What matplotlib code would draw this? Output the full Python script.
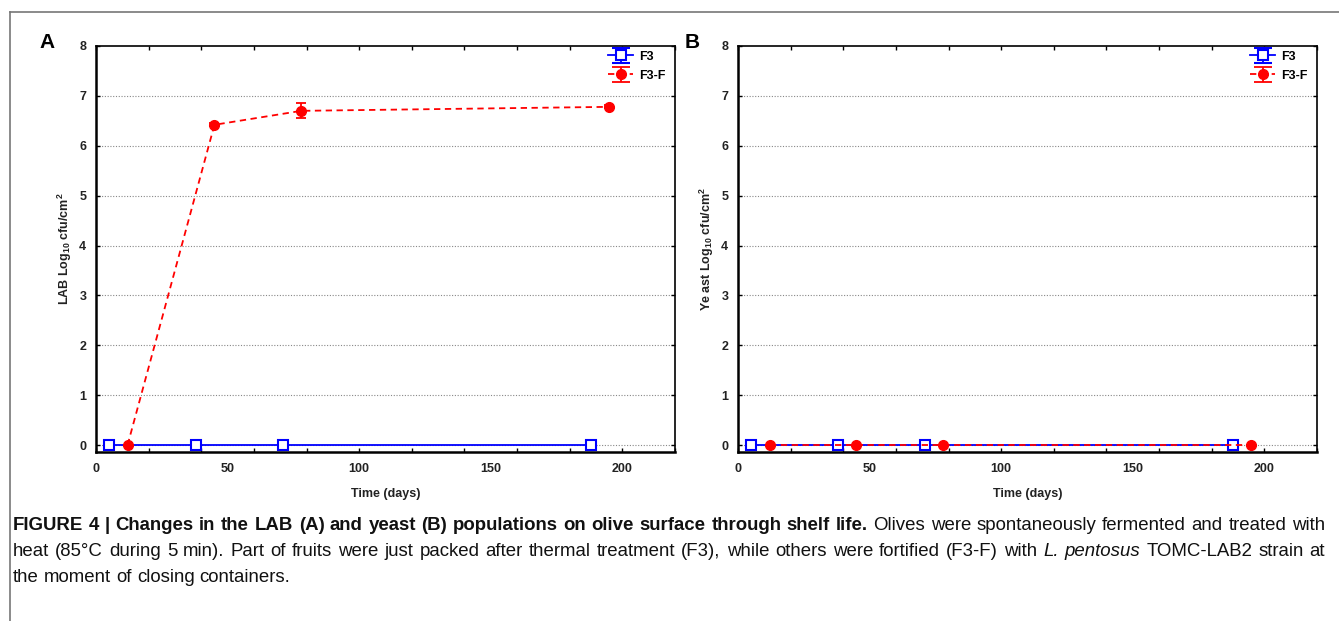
import matplotlib
matplotlib.use("Agg")
import numpy as np
import matplotlib.pyplot as plt
from matplotlib.lines import Line2D
from matplotlib.ticker import MultipleLocator, FixedLocator, NullFormatter
from matplotlib.container import ErrorbarContainer
from matplotlib.legend_handler import HandlerErrorbar

# ---------------- data ----------------
days_f3 = [5, 38, 71, 188]
days_f3f = [12, 45, 78, 195]

lab_f3 = [0, 0, 0, 0]
lab_f3_err = [0, 0, 0, 0]
lab_f3f = [0, 6.42, 6.70, 6.78]
lab_f3f_err = [0, 0.03, 0.15, 0.03]

yeast_f3 = [0, 0, 0, 0]
yeast_f3_err = [0, 0, 0, 0]
yeast_f3f = [0, 0, 0, 0]
yeast_f3f_err = [0, 0, 0, 0]

series_labels = ["F3", "F3-F"]
x_tick_labels = [0, 50, 100, 150, 200]
y_ticks = [0, 1, 2, 3, 4, 5, 6, 7, 8]
panel_letters = ["A", "B"]
y_labels = [r"LAB Log$_{\mathbf{10}}$ cfu/cm$^{\mathbf{2}}$",
            r"Ye ast Log$_{\mathbf{10}}$ cfu/cm$^{\mathbf{2}}$"]
x_label = "Time (days)"

caption_lines = [
    [("FIGURE 4 | Changes in the LAB (A) and yeast (B) populations on olive surface through shelf life.", "bold", "normal"),
     ("Olives were spontaneously fermented and treated with", "normal", "normal")],
    [("heat (85\u00b0C during 5 min). Part of fruits were just packed after thermal treatment (F3), while others were fortified (F3-F) with", "normal", "normal"),
     ("L. pentosus", "normal", "italic"),
     ("TOMC-LAB2 strain at", "normal", "normal")],
    [("the moment of closing containers.", "normal", "normal")],
]

# ---------------- figure ----------------
W, H = 1339, 621
fig = plt.figure(figsize=(W / 100, H / 100), dpi=100)
plt.rcParams['font.family'] = ['Liberation Sans', 'DejaVu Sans']
plt.rcParams['mathtext.fontset'] = 'custom'
plt.rcParams['mathtext.rm'] = 'Liberation Sans:bold'
plt.rcParams['mathtext.it'] = 'Liberation Sans:bold'
plt.rcParams['mathtext.bf'] = 'Liberation Sans:bold'

def px_rect(l, r, t, b):
    return [l / W, (H - b) / H, (r - l) / W, (b - t) / H]

axA = fig.add_axes(px_rect(96, 675, 46, 452))
axB = fig.add_axes(px_rect(738, 1317, 46, 452))

blue = "#0000ff"
red = "#ff0000"
blue_style = dict(color=blue, ls='-', lw=1.3, marker='s', ms=7, mfc='white',
                  mec=blue, mew=1.5, elinewidth=1.3, capthick=1.3)
red_style = dict(color=red, ls=(0, (3.5, 2.5)), lw=1.3, marker='o', ms=7,
                 mfc=red, mec=red, elinewidth=1.3, capthick=1.3)

def draw_panel(ax, yb, yb_err, yr, yr_err, ylabel, letter, letter_x):
    ax.errorbar(days_f3, yb, yerr=yb_err, capsize=3.5, zorder=3, **blue_style)
    ax.errorbar(days_f3f, yr, yerr=yr_err, capsize=3.5, zorder=4, **red_style)
    # legend proxies (not drawn: NaN data) with wider caps, as in the legend key
    p1 = ax.errorbar([np.nan], [np.nan], yerr=[1], capsize=6.5, **blue_style)
    p2 = ax.errorbar([np.nan], [np.nan], yerr=[1], capsize=6.5, **red_style)
    ax.set_xlim(0, 220)
    ax.set_ylim(-0.14, 8)
    ax.xaxis.remove_overlapping_locs = False
    ax.xaxis.set_major_locator(MultipleLocator(20))
    ax.xaxis.set_major_formatter(NullFormatter())
    ax.xaxis.set_minor_locator(FixedLocator(x_tick_labels))
    ax.set_xticklabels([str(v) for v in x_tick_labels], minor=True)
    ax.tick_params(axis='x', which='major', direction='in', length=3, width=1,
                   top=True, bottom=True)
    ax.tick_params(axis='x', which='minor', length=0, pad=8, labelsize=9)
    ax.set_yticks(y_ticks)
    ax.tick_params(axis='y', which='major', direction='in', length=3, width=1,
                   left=True, right=True, labelsize=9, pad=7)
    for lbl in ax.get_xticklabels(minor=True) + ax.get_yticklabels():
        lbl.set_fontweight('bold')
        lbl.set_color('#222222')
    for yv in y_ticks[:-1]:
        ax.axhline(yv, color='#888888', lw=0.8, ls=(0, (1, 1.5)), zorder=1)
    for s in ['left', 'bottom']:
        ax.spines[s].set_linewidth(1.8)
    for s in ['top', 'right']:
        ax.spines[s].set_linewidth(1.2)
    ax.set_xlabel(x_label, fontsize=9, fontweight='bold', color='#222222', labelpad=9)
    ax.set_ylabel(ylabel, fontsize=9, fontweight='bold', color='#222222', labelpad=4)
    leg = ax.legend([p1, p2], series_labels, loc='upper right', frameon=False,
                    fontsize=9, handlelength=2.0, handletextpad=0.45,
                    labelspacing=0.55, borderaxespad=0.15,
                    bbox_to_anchor=(0.995, 1.005),
                    handler_map={ErrorbarContainer: HandlerErrorbar(xerr_size=0.5, yerr_size=0.62)})
    for t in leg.get_texts():
        t.set_fontweight('bold')
    fig.text(letter_x / W, (H - 42) / H, letter, fontsize=15, fontweight='bold',
             ha='center', va='center')

draw_panel(axA, lab_f3, lab_f3_err, lab_f3f, lab_f3f_err, y_labels[0], panel_letters[0], 47)
draw_panel(axB, yeast_f3, yeast_f3_err, yeast_f3f, yeast_f3f_err, y_labels[1], panel_letters[1], 692)

# border lines
fig.add_artist(Line2D([10 / W, 1.0], [(H - 12) / H, (H - 12) / H], color='#777777', lw=1.2))
fig.add_artist(Line2D([10 / W, 10 / W], [(H - 12) / H, 0.0], color='#777777', lw=1.2))

# caption
fig.canvas.draw()
renderer = fig.canvas.get_renderer()
CFAM = ['Liberation Sans', 'DejaVu Sans']

def words_of(segments):
    out = []
    for txt, wt, st in segments:
        for w in txt.split(' '):
            if w:
                out.append((w, wt, st))
    return out

def measure(txt, wt, st, size):
    t = fig.text(0, 0, txt, fontsize=size, fontweight=wt, fontstyle=st, family=CFAM)
    w = t.get_window_extent(renderer=renderer).width
    t.remove()
    return w

def natural_width(segments, size):
    ws = words_of(segments)
    sp = measure('a a', 'normal', 'normal', size) - measure('aa', 'normal', 'normal', size)
    return sum(measure(w, wt, st, size) for w, wt, st in ws) + sp * (len(ws) - 1)

X0, X1 = 13, 1325
nat = natural_width(caption_lines[0], 11)
size = 11 * (X1 - X0) / nat

def draw_line(segments, yc, justify):
    ws = words_of(segments)
    widths = [measure(w, wt, st, size) for w, wt, st in ws]
    sp = measure('a a', 'normal', 'normal', size) - measure('aa', 'normal', 'normal', size)
    if justify and len(ws) > 1:
        gap = (X1 - X0 - sum(widths)) / (len(ws) - 1)
    else:
        gap = sp
    x = X0
    for (w, wt, st), wd in zip(ws, widths):
        fig.text(x / W, yc, w, fontsize=size, fontweight=wt, fontstyle=st,
                 ha='left', va='center', color='#111111', family=CFAM)
        x += wd + gap

ys = [(H - 525) / H, (H - 551) / H, (H - 577) / H]
draw_line(caption_lines[0], ys[0], True)
draw_line(caption_lines[1], ys[1], True)
draw_line(caption_lines[2], ys[2], False)

fig.savefig("out.png", dpi=100)
